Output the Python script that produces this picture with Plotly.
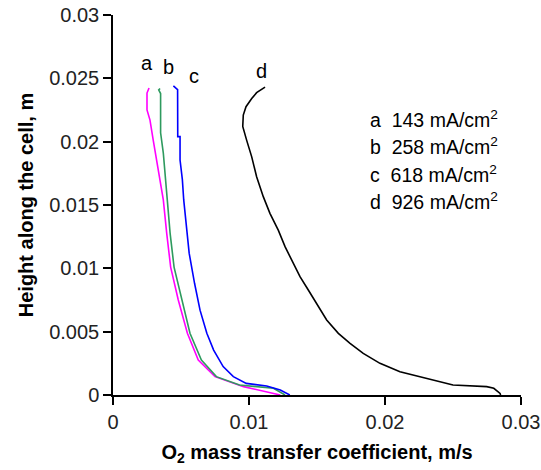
import plotly.graph_objects as go

# Curve a: 143 mA/cm2 (magenta)
a_x = [0.00265, 0.0025, 0.0025, 0.00272, 0.00296, 0.0032, 0.00346, 0.0037, 0.00395, 0.00424,
       0.0048, 0.00547, 0.00627, 0.0075, 0.0096, 0.0113, 0.0123]
a_y = [0.02424, 0.02384, 0.0225, 0.0217, 0.0201, 0.01855, 0.0170, 0.0154, 0.01276, 0.0101,
       0.0075, 0.00487, 0.00276, 0.00145, 0.00066, 0.00026, 0.0]

# Curve b: 258 mA/cm2 (green)
b_x = [0.00346, 0.00336, 0.0035, 0.0035, 0.0037, 0.00387, 0.00398, 0.0042, 0.00449, 0.00505,
       0.00566, 0.0065, 0.0076, 0.0093, 0.0106, 0.0118, 0.01265]
b_y = [0.0242, 0.02408, 0.0238, 0.0207, 0.0191, 0.0170, 0.0154, 0.01276, 0.0101, 0.0075,
       0.00487, 0.00276, 0.00145, 0.00079, 0.00066, 0.00053, 0.0]

# Curve c: 618 mA/cm2 (blue)
c_x = [0.00444, 0.00475, 0.00476, 0.00493, 0.00493, 0.0051, 0.0052, 0.00537, 0.0056, 0.006,
       0.0064, 0.0069, 0.0074, 0.0081, 0.00885, 0.0098, 0.0113, 0.0123, 0.0130]
c_y = [0.0244, 0.0241, 0.0204, 0.0204, 0.01855, 0.0170, 0.0154, 0.0137, 0.0112, 0.0088,
       0.0067, 0.00487, 0.00355, 0.00224, 0.00145, 0.00092, 0.00071, 0.0004, 0.0]

# Curve d: 926 mA/cm2 (black)
d_x = [0.01118, 0.01056, 0.0102, 0.00978, 0.00958, 0.00954, 0.00983, 0.0102, 0.01056, 0.01105,
       0.01154, 0.01216, 0.01265, 0.01314, 0.01375, 0.01436, 0.01498, 0.01571, 0.01657, 0.01743,
       0.0184, 0.01963, 0.0211, 0.02307, 0.0250, 0.02748, 0.0280, 0.02846, 0.0285]
d_y = [0.0243, 0.02387, 0.0234, 0.02276, 0.0221, 0.0212, 0.0201, 0.0188, 0.01723, 0.01566,
       0.01434, 0.0130, 0.01171, 0.01066, 0.00934, 0.00829, 0.00724, 0.00592, 0.00487, 0.00408,
       0.00329, 0.0025, 0.00184, 0.00132, 0.00079, 0.00066, 0.00053, 0.00013, 0.0]

series_x = [a_x, b_x, c_x, d_x]
series_y = [a_y, b_y, c_y, d_y]
series_colors = ["#FF00FF", "#2E9A5E", "#0000FF", "#000000"]

curve_labels = ["a", "b", "c", "d"]
curve_label_x = [0.00248, 0.00407, 0.00598, 0.01093]
curve_label_y = [0.02619, 0.02593, 0.02518, 0.02560]

legend_letters = ["a", "b", "c", "d"]
legend_values = ["143", "258", "618", "926"]

x_ticks = [0, 0.01, 0.02, 0.03]
x_ticktext = ["0", "0.01", "0.02", "0.03"]
y_ticks = [0, 0.005, 0.01, 0.015, 0.02, 0.025, 0.03]
y_ticktext = ["0", "0.005", "0.01", "0.015", "0.02", "0.025", "0.03"]

FONT = "Liberation Sans, Arial, sans-serif"

L, R, T, B = 113, 20, 15, 75
W, H = 541, 470
pw, ph = W - L - R, H - T - B

fig = go.Figure()
for xs, ys, col in zip(series_x, series_y, series_colors):
    fig.add_trace(go.Scatter(x=xs, y=ys, mode="lines",
                             line=dict(color=col, width=1.6), showlegend=False))

for lab, lx, ly in zip(curve_labels, curve_label_x, curve_label_y):
    fig.add_annotation(x=lx, y=ly, text=lab, showarrow=False, xref="x", yref="y",
                       font=dict(size=20, color="black", family=FONT))

for i, (let, val) in enumerate(zip(legend_letters, legend_values)):
    px, py = 368, 118.5 + 27.6 * i
    fig.add_annotation(x=(px - L) / pw, y=1 - (py - T) / ph, xref="paper", yref="paper",
                       text=f"{let}  {val} mA/cm<sup>2</sup>", showarrow=False,
                       xanchor="left", yanchor="middle",
                       font=dict(size=19.5, color="black", family=FONT))

fig.update_layout(
    width=W, height=H,
    margin=dict(l=L, r=R, t=T, b=B),
    paper_bgcolor="white", plot_bgcolor="white",
    font=dict(family=FONT, size=20, color="black"),
    xaxis=dict(range=[0, 0.03], tickvals=x_ticks, ticktext=x_ticktext,
               automargin=False,
               showline=True, linecolor="black", linewidth=1.5,
               ticks="outside", ticklen=8, tickwidth=1.5, tickcolor="black",
               tickfont=dict(size=20, color="#222"),
               showgrid=False, zeroline=False,
               title=dict(text="<b>O<sub>2</sub> mass transfer coefficient, m/s</b>",
                          font=dict(size=20), standoff=13)),
    yaxis=dict(range=[0, 0.03], tickvals=y_ticks, ticktext=y_ticktext,
               automargin=False,
               showline=True, linecolor="black", linewidth=1.5,
               ticks="outside", ticklen=8, tickwidth=1.5, tickcolor="black",
               tickfont=dict(size=20, color="#222"),
               showgrid=False, zeroline=False,
               title=dict(text="<b>Height along the cell, m</b>",
                          font=dict(size=20), standoff=10)),
)

fig.write_html("out.html")
